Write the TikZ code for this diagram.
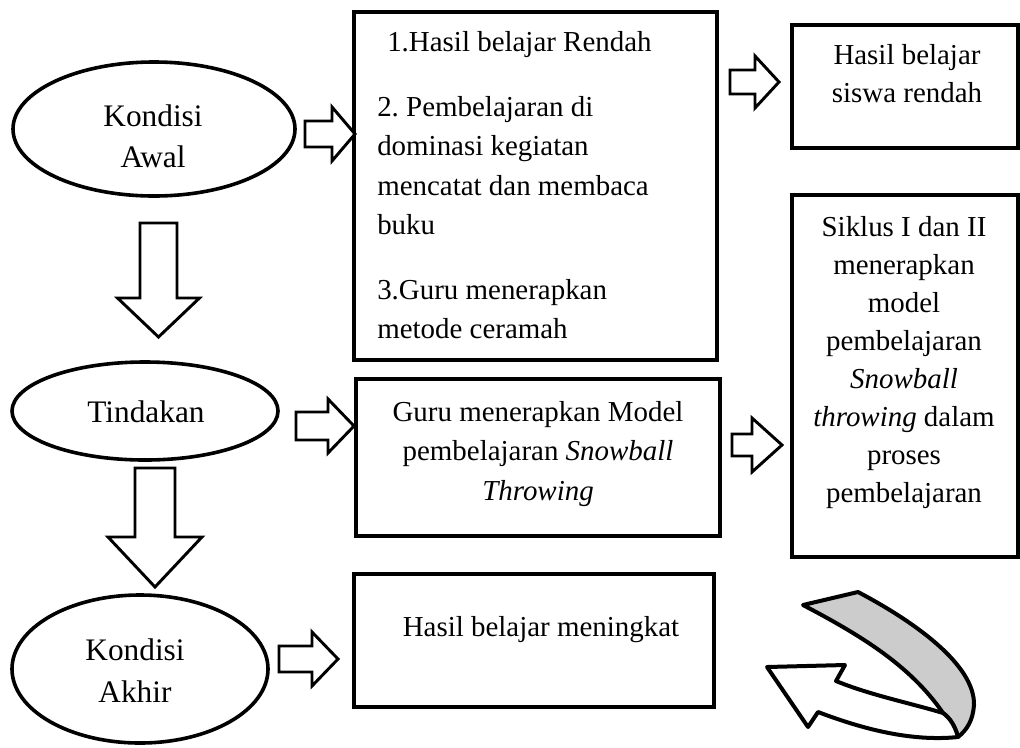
\documentclass[tikz,border=0pt]{standalone}
\usepackage{fontspec}
\setmainfont{Liberation Serif}
\usetikzlibrary{shapes.geometric}
\frenchspacing
\newcommand\fl{\rule{0pt}{15pt}}
\newcommand\flb{\rule{0pt}{16.5pt}}
% right block arrow: x0, xhead, xtip, yc, shaft half, head half
\newcommand\RArrow[6]{\draw[blockarrow] (#1,#4-#5) -- (#2,#4-#5) -- (#2,#4-#6) -- (#3,#4) -- (#2,#4+#6) -- (#2,#4+#5) -- (#1,#4+#5) -- cycle;}
% down block arrow: xc, y0, yhead, ytip, shaft half, head half
\newcommand\DArrow[6]{\draw[blockarrow] (#1-#5,#2) -- (#1+#5,#2) -- (#1+#5,#3) -- (#1+#6,#3) -- (#1,#4) -- (#1-#6,#3) -- (#1-#5,#3) -- cycle;}
\tikzset{
  box/.style={draw, line width=3pt, inner sep=0pt},
  oval/.style={ellipse, draw, line width=2.7pt, inner sep=0pt},
  blockarrow/.style={draw, line width=2.2pt, fill=white, line join=miter},
  curv/.style={draw, line width=3pt, line join=round},
  txt/.style={inner sep=0pt, anchor=north, align=center, font=\fontsize{21.7pt}{29.5pt}\selectfont},
  otxt/.style={txt, font=\fontsize{23.5pt}{31pt}\selectfont},
}
\begin{document}
\begin{tikzpicture}[x=0.75pt,y=-0.75pt]
\useasboundingbox (0,0) rectangle (1020,747);
% ovals
\node[oval, minimum width=211.5pt, minimum height=100.5pt] (e1) at (154,129) {};
\node[oval, minimum width=199.5pt, minimum height=73.5pt] (e2) at (145,411) {};
\node[oval, minimum width=192pt, minimum height=111pt] (e3) at (140,669) {};
\node[otxt] (tK1) at (153,104) {\flb Kondisi\\Awal};
\node[otxt] (tT) at (146,400) {\flb Tindakan};
\node[otxt] (tK2) at (135,638) {\flb Kondisi\\[0.5pt]Akhir};
% boxes
\node[box, minimum width=272.25pt, minimum height=261pt] (b1) at (535.5,186) {};
\node[box, minimum width=273pt, minimum height=117.75pt] (bG) at (538,457.5) {};
\node[box, minimum width=169.5pt, minimum height=92.25pt] (bR) at (905,86.5) {};
\node[box, minimum width=169.5pt, minimum height=271.5pt] (bS) at (905,376) {};
\node[box, minimum width=270pt, minimum height=99.75pt] (bH) at (534,640.5) {};
% box texts
\node[txt, anchor=north west, align=left] (t1) at (377,31) {\fl\hspace*{7.5pt}1.Hasil belajar Rendah\\[19.3pt]
2. Pembelajaran di\\dominasi kegiatan\\mencatat dan membaca\\buku\\[19.3pt]
3.Guru menerapkan\\metode ceramah};
\node[txt] (tR) at (907,44) {\fl Hasil belajar\\[-1pt]siswa rendah};
\node[txt, font=\fontsize{21.7pt}{28.5pt}\selectfont] (tS) at (904,216) {\fl Siklus I dan II\\menerapkan\\model\\pembelajaran\\\textit{Snowball}\\\textit{throwing} dalam\\proses\\pembelajaran};
\node[txt] (tG) at (538,401) {\fl Guru menerapkan Model\\pembelajaran \textit{Snowball}\\\textit{Throwing}};
\node[txt] (tH) at (541,616) {\fl Hasil belajar meningkat};
% block arrows
\RArrow{305}{332}{355}{134}{13}{27}
\RArrow{296}{328}{354}{426}{14}{27}
\RArrow{279}{312}{338}{659}{13}{27}
\RArrow{730}{755}{779}{82}{12}{26}
\RArrow{732}{752}{782}{445}{11}{27}
\DArrow{158.5}{223}{298}{337}{18.5}{41}
\DArrow{155}{468}{537}{587}{20}{47}
% curved arrow
\draw[curv, fill=black!20] (803,605) -- (858,592) .. controls (915,622) and (975,665) .. (974,705)
  .. controls (973,720) and (967,730) .. (958,737) .. controls (955,726) and (950,718) .. (943,713)
  .. controls (910,665) and (860,635) .. (803,605) -- cycle;
\draw[curv, fill=white] (943,713) .. controls (910,703) and (870,695) .. (836,681) -- (845,665) -- (767,667)
  -- (808,727) -- (818,712) .. controls (860,728) and (910,742) .. (958,737)
  .. controls (955,726) and (950,718) .. (943,713) -- cycle;
\end{tikzpicture}
\end{document}
